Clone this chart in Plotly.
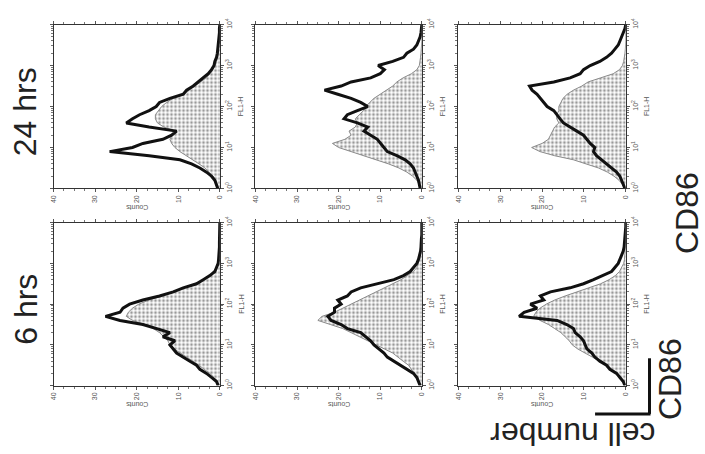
import numpy as np
import plotly.graph_objects as go

# FL1-H channel positions (decades, 10^0 .. 10^4)
decades = [0.0, 0.1, 0.2, 0.3, 0.4, 0.5, 0.6, 0.7, 0.8, 0.9,
           1.0, 1.1, 1.2, 1.3, 1.4, 1.5, 1.6, 1.7, 1.8, 1.9,
           2.0, 2.1, 2.2, 2.3, 2.4, 2.5, 2.6, 2.7, 2.8, 2.9,
           3.0, 3.1, 3.2, 3.3, 3.4, 3.5, 3.6, 3.7, 3.8, 3.9, 4.0]

count_ticks = [0, 10, 20, 30, 40]
fl1_tick_vals = [1, 10, 100, 1000, 10000]
fl1_tick_text = ["10<sup>0</sup>", "10<sup>1</sup>", "10<sup>2</sup>", "10<sup>3</sup>", "10<sup>4</sup>"]
time_labels = ["24 hrs", "6 hrs"]

# 24 hrs, first culture
ctrl_24h_a = [0.3, 0.6, 1.0, 1.6, 2.5, 3.6, 5.0, 6.6, 8.2, 9.6,
              10.8, 11.6, 12.0, 11.5, 10.6, 13.5, 15.0, 15.5, 15.5, 14.8,
              14.0, 12.8, 11.2, 8.5, 7.4, 6.0, 4.5, 3.3, 2.3, 1.6,
              1.1, 0.8, 0.5, 0.4, 0.3, 0.2, 0.15, 0.1, 0.05, 0.0, 0.0]
cd86_24h_a = [0.5, 0.8, 1.2, 2.0, 3.2, 4.8, 6.8, 9.6, 17.0, 26.5,
              21.0, 18.5, 13.7, 11.6, 10.4, 17.0, 22.5, 21.0, 19.3, 17.0,
              15.3, 14.5, 12.0, 8.8, 8.0, 6.4, 5.2, 4.0, 2.8, 2.0,
              1.4, 1.2, 0.8, 0.6, 0.5, 0.3, 0.3, 0.2, 0.1, 0.1, 0.0]

# 24 hrs, second culture
ctrl_24h_b = [0.3, 0.6, 1.2, 2.2, 3.6, 5.5, 8.0, 11.0, 14.5, 17.5,
              20.0, 21.5, 18.5, 17.0, 17.5, 16.0, 15.5, 16.0, 15.0, 14.0,
              13.5, 12.5, 11.5, 10.0, 8.5, 7.0, 6.0, 4.5, 2.5, 1.2,
              0.6, 0.4, 0.3, 0.2, 0.1, 0.1, 0.0, 0.0, 0.0, 0.0, 0.0]
cd86_24h_b = [0.4, 0.6, 0.8, 1.2, 1.6, 2.0, 2.8, 4.0, 6.0, 8.3,
              9.1, 10.0, 10.7, 12.3, 13.9, 13.0, 15.5, 18.7, 17.9, 15.5,
              13.0, 14.7, 17.0, 20.2, 23.4, 19.4, 17.0, 12.3, 10.0, 9.0,
              10.5, 7.0, 4.4, 3.6, 2.0, 1.2, 0.8, 0.4, 0.2, 0.1, 0.0]

# 24 hrs, third culture
ctrl_24h_c = [0.3, 0.8, 1.6, 2.8, 4.4, 6.5, 9.5, 12.5, 17.0, 20.5,
              22.5, 20.0, 18.5, 18.0, 17.5, 17.0, 16.0, 16.5, 16.5, 16.0,
              16.0, 15.5, 15.0, 14.0, 12.5, 10.5, 9.0, 6.0, 3.0, 1.5,
              0.8, 0.5, 0.3, 0.2, 0.1, 0.0, 0.0, 0.0, 0.0, 0.0, 0.0]
cd86_24h_c = [0.2, 0.6, 1.0, 1.4, 2.2, 3.4, 4.6, 5.8, 7.0, 7.7,
              7.4, 8.5, 9.3, 10.1, 11.7, 13.3, 14.9, 15.7, 16.4, 17.2,
              18.8, 19.6, 20.4, 21.2, 22.4, 23.0, 17.2, 13.3, 10.9, 10.1,
              8.5, 6.2, 4.6, 3.4, 2.6, 1.8, 1.4, 0.9, 0.6, 0.2, 0.0]

# 6 hrs, first culture
ctrl_6h_a = [0.3, 0.6, 1.4, 2.4, 3.8, 5.0, 6.5, 8.0, 9.5, 11.0,
             12.0, 12.5, 13.5, 14.5, 16.0, 18.0, 21.0, 22.5, 22.0, 21.0,
             19.5, 17.0, 14.0, 11.0, 8.5, 6.0, 4.0, 2.5, 1.5, 0.8,
             0.5, 0.3, 0.2, 0.1, 0.0, 0.0, 0.0, 0.0, 0.0, 0.0, 0.0]
cd86_6h_a = [0.4, 0.8, 2.0, 3.2, 4.8, 5.6, 7.2, 8.8, 10.4, 11.2,
             12.0, 10.8, 13.7, 12.0, 15.3, 18.5, 24.0, 27.5, 24.0, 23.3,
             21.7, 18.5, 14.5, 11.2, 8.8, 5.6, 4.0, 2.4, 1.2, 0.8,
             0.4, 0.3, 0.2, 0.2, 0.1, 0.1, 0.1, 0.0, 0.0, 0.0, 0.0]

# 6 hrs, second culture
ctrl_6h_b = [0.3, 0.6, 1.0, 1.8, 2.5, 3.2, 4.5, 5.8, 7.0, 9.0,
             11.0, 13.0, 15.0, 17.0, 19.0, 22.0, 25.0, 24.0, 21.0, 19.0,
             17.0, 15.0, 13.0, 11.0, 9.0, 7.0, 5.0, 3.5, 2.0, 1.2,
             0.8, 0.5, 0.3, 0.2, 0.1, 0.0, 0.0, 0.0, 0.0, 0.0, 0.0]
cd86_6h_b = [0.4, 0.8, 1.2, 2.0, 3.6, 5.2, 6.7, 8.3, 9.1, 10.3,
             11.5, 12.3, 13.5, 14.7, 17.9, 19.4, 21.8, 22.6, 21.0, 21.0,
             19.4, 20.2, 17.9, 17.0, 14.7, 10.7, 6.7, 4.4, 2.8, 2.0,
             1.2, 0.8, 0.5, 0.3, 0.2, 0.2, 0.1, 0.0, 0.0, 0.0, 0.0]

# 6 hrs, third culture
ctrl_6h_c = [0.3, 0.6, 1.2, 2.0, 3.2, 4.6, 6.2, 8.0, 9.8, 11.5,
             12.8, 13.5, 14.5, 15.5, 17.0, 18.5, 20.5, 22.0, 21.5, 20.5,
             19.0, 17.0, 14.5, 11.5, 8.5, 6.0, 4.0, 2.5, 1.5, 0.9,
             0.5, 0.3, 0.2, 0.1, 0.0, 0.0, 0.0, 0.0, 0.0, 0.0, 0.0]
cd86_6h_c = [0.2, 0.6, 1.4, 2.2, 3.8, 4.6, 6.2, 7.4, 8.1, 9.3,
             9.7, 10.1, 10.9, 12.1, 12.5, 14.1, 16.4, 25.5, 24.3, 21.2,
             22.8, 19.6, 20.4, 18.0, 13.3, 10.1, 7.7, 5.4, 3.4, 2.6,
             1.8, 1.4, 1.0, 0.6, 0.4, 0.3, 0.2, 0.1, 0.0, 0.0, 0.0]

panels = [
    [(ctrl_24h_a, cd86_24h_a), (ctrl_24h_b, cd86_24h_b), (ctrl_24h_c, cd86_24h_c)],
    [(ctrl_6h_a, cd86_6h_a), (ctrl_6h_b, cd86_6h_b), (ctrl_6h_c, cd86_6h_c)],
]

W, H = 705, 454
col_px = [(50, 218), (254, 422), (459, 628)]
row_px = [(18, 186), (221, 388)]


def px(x):
    return x / W


def py(y):
    return 1 - y / H


def label(x, y, text, angle, font):
    return dict(x=px(x), y=py(y), xref="paper", yref="paper", text=text,
                textangle=angle, showarrow=False, font=font,
                xanchor="center", yanchor="middle")


channel = [10 ** d for d in decades]
fig = go.Figure()
layout = {}
annotations = []
tick_font = dict(family="Liberation Sans, Arial", size=7, color="#555")
label_font = dict(family="Liberation Sans, Arial", size=32, color="#222")

k = 0
for r, row in enumerate(panels):
    for c, (ctrl, cd86) in enumerate(row):
        k += 1
        xa = "x" if k == 1 else f"x{k}"
        ya = "y" if k == 1 else f"y{k}"
        fig.add_trace(go.Scatter(
            x=ctrl, y=channel, xaxis=xa, yaxis=ya, mode="lines",
            line=dict(color="#8a8a8a", width=1),
            fill="tozerox", fillcolor="rgba(255,255,255,0)",
            fillpattern=dict(shape=".", size=4, solidity=0.4,
                             fgcolor="#333", bgcolor="white"),
            showlegend=False, hoverinfo="skip"))
        fig.add_trace(go.Scatter(
            x=cd86, y=channel, xaxis=xa, yaxis=ya, mode="lines",
            line=dict(color="#111", width=3),
            showlegend=False, hoverinfo="skip"))

        x0, x1 = col_px[c]
        y0, y1 = row_px[r]
        sfx = "" if k == 1 else str(k)
        layout["xaxis" + sfx] = dict(
            domain=[px(x0), px(x1)], anchor=ya, range=[40, 0],
            tickvals=count_ticks, tickangle=-90, tickfont=tick_font,
            ticks="outside", ticklen=3, tickcolor="#555",
            minor=dict(ticks="outside", ticklen=2, dtick=2.5, tickcolor="#777"),
            showgrid=False, zeroline=False, showline=True, mirror="allticks",
            linecolor="#333", linewidth=1)
        layout["yaxis" + sfx] = dict(
            domain=[py(y1), py(y0)], anchor=xa, type="log", range=[0, 4],
            side="right", tickvals=fl1_tick_vals, ticktext=fl1_tick_text,
            tickangle=-90, tickfont=tick_font,
            ticks="outside", ticklen=3, tickcolor="#555",
            minor=dict(ticks="outside", ticklen=2, dtick="D1", tickcolor="#777"),
            showgrid=False, zeroline=False, showline=True, mirror="allticks",
            linecolor="#333", linewidth=1)

        annotations.append(label(x1 + 21, (y0 + y1) / 2, "FL1-H", -90, tick_font))
        annotations.append(label((x0 + x1) / 2, y1 + 20, "Counts", 180, tick_font))

# time point labels at the left of each row
for r, lab in enumerate(time_labels):
    y0, y1 = row_px[r]
    annotations.append(label(22, (y0 + y1) / 2 + 5, lab, -90, label_font))

annotations.append(label(690, 211, "CD86", -90, label_font))
annotations.append(label(672, 381, "CD86", -90, label_font))
annotations.append(label(574, 437, "cell number", 180, label_font))

# axis-key corner
shapes = [
    dict(type="line", xref="paper", yref="paper",
         x0=px(652), x1=px(652), y0=py(360), y1=py(417),
         line=dict(color="#111", width=3)),
    dict(type="line", xref="paper", yref="paper",
         x0=px(597), x1=px(653), y0=py(417), y1=py(417),
         line=dict(color="#111", width=3)),
]

fig.update_layout(
    width=W, height=H, margin=dict(l=0, r=0, t=0, b=0),
    paper_bgcolor="white", plot_bgcolor="white",
    annotations=annotations, shapes=shapes, **layout)

fig.write_html("out.html")
